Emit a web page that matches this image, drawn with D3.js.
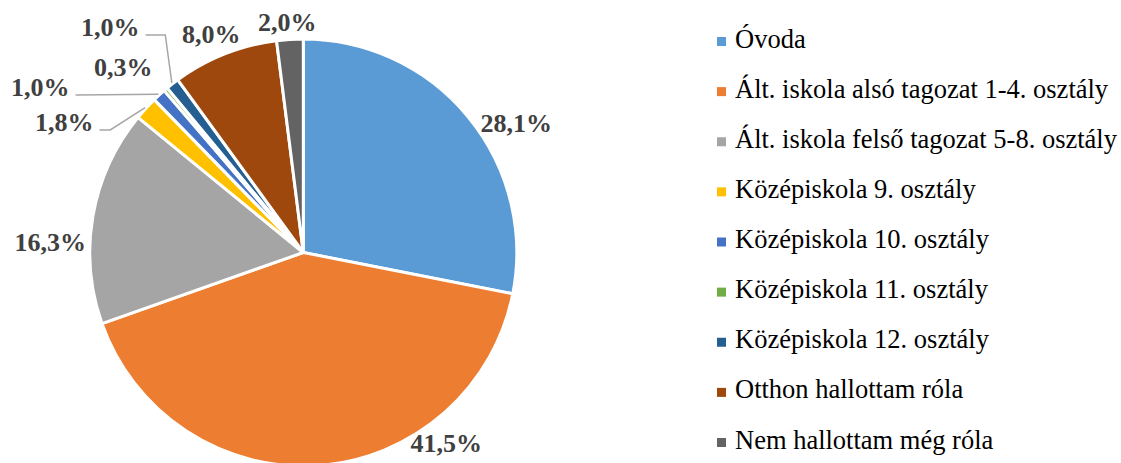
<!DOCTYPE html>
<html>
<head>
<meta charset="utf-8">
<script src="https://cdn.jsdelivr.net/npm/d3@7"></script>
<style>
  html, body { margin: 0; padding: 0; background: #fff; }
  svg { display: block; }
</style>
</head>
<body>
<svg id="chart" width="1121" height="463"></svg>
<script>
// ---- data ----
const categories = [
  "Óvoda",
  "Ált. iskola alsó tagozat 1-4. osztály",
  "Ált. iskola felső tagozat 5-8. osztály",
  "Középiskola 9. osztály",
  "Középiskola 10. osztály",
  "Középiskola 11. osztály",
  "Középiskola 12. osztály",
  "Otthon hallottam róla",
  "Nem hallottam még róla"
];
const values = [28.1, 41.5, 16.3, 1.8, 1.0, 0.3, 1.0, 8.0, 2.0];
const valueLabels = ["28,1%", "41,5%", "16,3%", "1,8%", "1,0%", "0,3%", "1,0%", "8,0%", "2,0%"];

// ---- styles / layout ----
const colors = ["#5B9BD5", "#ED7D31", "#A5A5A5", "#FFC000", "#4472C4", "#70AD47", "#255E91", "#9E480E", "#636363"];
const cx = 303.3, cy = 252.5, R = 213.5;
// label anchor (text centre x, baseline y) relative to pie centre
const labelOffsets = [
  [213, -121], [143, 199], [-253, -1.5], [-239, -121.5], [-263, -156.5],
  [-180, -176.5], [-193, -216.5], [-92, -210], [-16, -221.5]
];
// leader lines: index -> elbow x relative to pie centre (null = none)
const leaderElbow = { 3: -193, 4: null, 6: -138 };
const leaderSlices = [3, 4, 6];
const fontSerif = "Liberation Serif";

const svg = d3.select("#chart");
const g = svg.append("g").attr("transform", `translate(${cx},${cy})`);

const pie = d3.pie().sort(null).value(d => d)(values);
const arc = d3.arc().innerRadius(0).outerRadius(R);

g.selectAll("path.slice")
  .data(pie)
  .join("path")
  .attr("class", "slice")
  .attr("d", arc)
  .attr("fill", (d, i) => colors[i])
  .attr("stroke", "#fff")
  .attr("stroke-width", 3)
  .attr("stroke-linejoin", "round");

// labels
const labels = g.selectAll("text.lbl")
  .data(pie)
  .join("text")
  .attr("class", "lbl")
  .attr("x", (d, i) => labelOffsets[i][0])
  .attr("y", (d, i) => labelOffsets[i][1])
  .attr("text-anchor", "middle")
  .style("font-family", fontSerif)
  .style("font-weight", "bold")
  .style("font-size", "26px")
  .attr("fill", "#404040")
  .text((d, i) => valueLabels[i]);

// leader lines
const lineGen = d3.line();
leaderSlices.forEach(i => {
  const node = labels.nodes()[i];
  const w = node.getComputedTextLength();
  const sx = labelOffsets[i][0] + w / 2 + 6;
  const sy = labelOffsets[i][1] - 1;
  const d = pie[i];
  const a = (d.startAngle + d.endAngle) / 2;
  const ex = Math.sin(a) * (R + 1);
  const ey = -Math.cos(a) * (R + 1);
  const pts = [[sx, sy]];
  if (leaderElbow[i] != null) pts.push([leaderElbow[i], sy]);
  pts.push([ex, ey]);
  g.append("path")
    .attr("d", lineGen(pts))
    .attr("fill", "none")
    .attr("stroke", "#A6A6A6")
    .attr("stroke-width", 1.5);
});

// legend
const legendY = d3.scalePoint().domain(categories).range([41.5, 442.5]);
const legend = svg.append("g");
const items = legend.selectAll("g.item")
  .data(categories)
  .join("g")
  .attr("class", "item")
  .attr("transform", d => `translate(0,${legendY(d)})`);
items.append("rect")
  .attr("x", 717).attr("y", -4.5)
  .attr("width", 9).attr("height", 9)
  .attr("fill", (d, i) => colors[i]);
items.append("text")
  .attr("x", 735).attr("y", 6)
  .style("font-family", fontSerif)
  .style("font-size", "26.5px")
  .attr("fill", "#000")
  .text(d => d);
</script>
</body>
</html>
